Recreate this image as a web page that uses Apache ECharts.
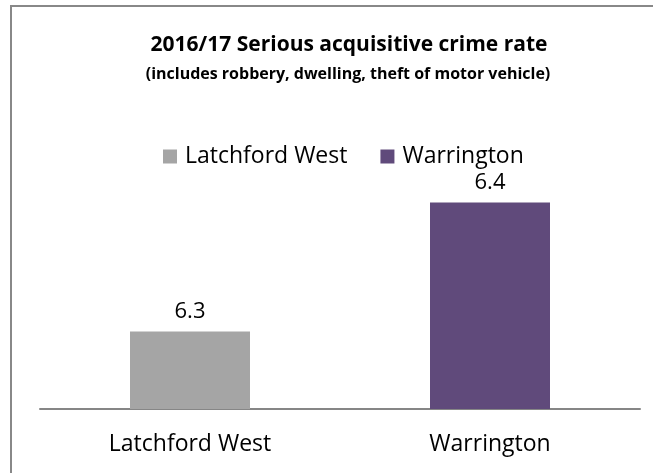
<!DOCTYPE html>
<html>
<head>
<meta charset="utf-8">
<script src="https://cdn.jsdelivr.net/npm/echarts@6/dist/echarts.min.js"></script>
<style>
html,body{margin:0;padding:0;background:#fff;}
#c{width:653px;height:473px;}
</style>
</head>
<body>
<div id="c"></div>
<script>
var categories = ['Latchford West', 'Warrington'];
var values = [6.3, 6.4];
var colors = ['#A5A5A5', '#604A7B'];
var titleText = '2016/17 Serious acquisitive crime rate';
var subtitleText = '(includes robbery, dwelling, theft of motor vehicle)';

var FONT = 'Open Sans';
var chart = echarts.init(document.getElementById('c'), null, {renderer: 'canvas'});

var series = categories.map(function (name, i) {
  var d = categories.map(function (c, j) { return j === i ? values[i] : '-'; });
  return {
    name: name,
    type: 'bar',
    stack: 'all',
    data: d,
    barWidth: '40%',
    itemStyle: {color: colors[i]},
    label: {
      show: true, position: 'top', distance: 9,
      color: '#000', fontFamily: FONT, fontSize: 22,
      formatter: function (p) { return p.value.toFixed(1); }
    }
  };
});

chart.setOption({
  animation: false,
  backgroundColor: '#fff',
  graphic: [{
    type: 'rect', shape: {x: 11, y: 6, width: 700, height: 500},
    style: {fill: 'none', stroke: '#888888', lineWidth: 2}, silent: true
  }],
  title: [{
    text: titleText,
    left: 344, top: 30, textAlign: 'center',
    textStyle: {fontFamily: FONT, fontWeight: 'bold', fontSize: 21, color: '#000'}
  }, {
    text: subtitleText,
    left: 343, top: 61, textAlign: 'center',
    textStyle: {fontFamily: FONT, fontWeight: 'bold', fontSize: 16, color: '#000'}
  }],
  legend: {
    data: categories,
    top: 145, left: 163, padding: 0,
    icon: 'rect', itemWidth: 14, itemHeight: 14, itemGap: 33,
    textStyle: {fontFamily: FONT, fontSize: 23, color: '#000', padding: [0, 0, 0, 3]}
  },
  grid: {left: 40, right: 13, top: 151, bottom: 64, containLabel: false},
  xAxis: {
    type: 'category', data: categories,
    axisLine: {lineStyle: {color: '#868686', width: 2}},
    axisTick: {show: false},
    axisLabel: {fontFamily: FONT, fontSize: 23, color: '#000', margin: 24}
  },
  yAxis: {
    type: 'value', min: 6.24, max: 6.44, show: false,
    splitLine: {show: false}
  },
  series: series
});
</script>
</body>
</html>
